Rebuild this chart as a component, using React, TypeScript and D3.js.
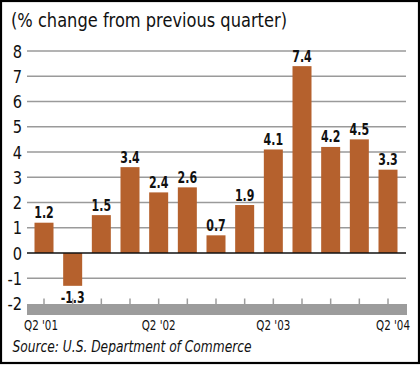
import React from "react";
import * as d3 from "d3";

const categories = ["Q2 '01","Q3 '01","Q4 '01","Q1 '02","Q2 '02","Q3 '02","Q4 '02","Q1 '03","Q2 '03","Q3 '03","Q4 '03","Q1 '04","Q2 '04"];
const values = [1.2, -1.3, 1.5, 3.4, 2.4, 2.6, 0.7, 1.9, 4.1, 7.4, 4.2, 4.5, 3.3];
const yTicks = [-2, -1, 0, 1, 2, 3, 4, 5, 6, 7, 8];
const xLabels = ["Q2 '01", "Q2 '02", "Q2 '03", "Q2 '04"];

const FONT = "'Liberation Sans Narrow', 'DejaVu Sans Condensed', 'Roboto Condensed', sans-serif";

export default function App() {
  const W = 420, H = 365;
  const x = d3.scalePoint<string>().domain(categories).range([44, 388]);
  const y = d3.scaleLinear().domain([-2, 8]).range([303.5, 51]);
  const barW = 19;
  const gridL = 27, gridR = 406;
  return (
    <svg width={W} height={H} style={{ position: "absolute", left: 0, top: 0, display: "block" }}>
      <rect x={0} y={0} width={W} height={H} fill="#fff" />
      <rect x={1} y={1} width={W - 2} height={H - 3} fill="none" stroke="#000" strokeWidth={2.2} />
      <text x={11} y={27} fontFamily={FONT} fontSize={19.5} fill="#111" textLength={276} lengthAdjust="spacingAndGlyphs">(% change from previous quarter)</text>
      {yTicks.map((t) => (
        <g key={t}>
          {t !== 0 && t !== -2 && (
            <line x1={gridL} x2={gridR} y1={y(t)} y2={y(t)} stroke="#9a9a9a" strokeWidth={1.4} />
          )}
          <text x={22} y={y(t)} dy="0.36em" textAnchor="end" fontFamily={FONT} fontSize={18.5} fill="#111" transform={`translate(22,0) scale(0.88,1) translate(-22,0)`}>{t}</text>
        </g>
      ))}
      {categories.map((c, i) => {
        const v = values[i];
        const y0 = y(0), y1 = y(v);
        return (
          <rect key={c} x={(x(c) as number) - barW / 2} y={Math.min(y0, y1)} width={barW} height={Math.abs(y1 - y0)} fill="#b5612d" />
        );
      })}
      <line x1={gridL} x2={gridR} y1={y(0)} y2={y(0)} stroke="#111" strokeWidth={1.6} />
      {categories.map((c, i) => {
        const v = values[i];
        const cx = x(c) as number;
        const ty = v >= 0 ? y(v) - 4.5 : y(v) + 17;
        const label = v.toFixed(1);
        return (
          <text key={c} x={cx} y={ty} textAnchor="middle" fontFamily={FONT} fontWeight="bold" fontSize={15} fill="#111" textLength={label.length > 3 ? 24 : 19.5} lengthAdjust="spacingAndGlyphs">{label}</text>
        );
      })}
      <rect x={gridL} y={304} width={gridR - gridL + 1} height={11} fill="#9c9c9c" />
      {categories.map((c) => (
        <line key={c} x1={x(c) as number} x2={x(c) as number} y1={298.5} y2={304} stroke="#9c9c9c" strokeWidth={1.5} />
      ))}
      {xLabels.map((l, i) => {
        const cx = x(l) as number;
        const anchor = i === 0 ? "start" : i === xLabels.length - 1 ? "end" : "middle";
        const px = i === 0 ? 24 : i === xLabels.length - 1 ? 410 : cx;
        return (
          <text key={l} x={px} y={330} textAnchor={anchor} fontFamily={FONT} fontSize={14} fill="#111" textLength={34} lengthAdjust="spacingAndGlyphs">{l}</text>
        );
      })}
      <text x={12.5} y={352} fontFamily={FONT} fontStyle="italic" fontSize={15} fill="#111" textLength={239} lengthAdjust="spacingAndGlyphs">Source:  U.S. Department of Commerce</text>
    </svg>
  );
}
